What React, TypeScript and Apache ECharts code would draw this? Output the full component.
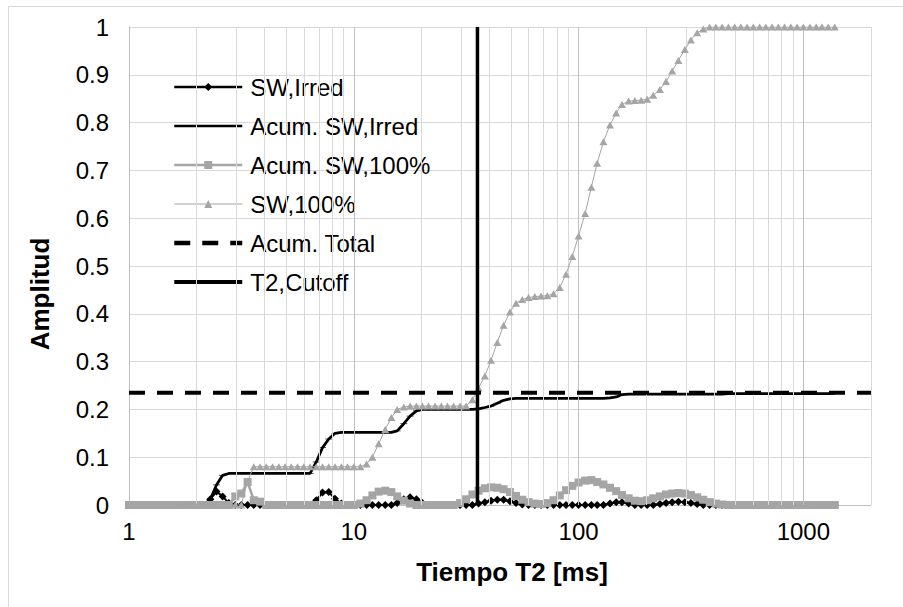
import React, { useEffect, useRef } from 'react';
import * as echarts from 'echarts';

// T2 bins (ms)
const t2Ms = [
  1, 1.07, 1.14, 1.21, 1.29, 1.38, 1.47, 1.56, 1.67, 1.78, 1.9, 2.02, 2.15, 2.3, 2.45, 2.61, 2.78, 2.97,
  3.16, 3.37, 3.59, 3.83, 4.08, 4.35, 4.64, 4.95, 5.27, 5.62, 5.99, 6.39, 6.81, 7.26, 7.74, 8.25, 8.8, 9.38,
  10, 10.7, 11.4, 12.1, 12.9, 13.8, 14.7, 15.6, 16.7, 17.8, 19, 20.2, 21.5, 23, 24.5, 26.1, 27.8, 29.7,
  31.6, 33.7, 35.9, 38.3, 40.8, 43.5, 46.4, 49.5, 52.7, 56.2, 59.9, 63.9, 68.1, 72.6, 77.4, 82.5, 88, 93.8,
  100, 107, 114, 121, 129, 138, 147, 156, 167, 178, 190, 202, 215, 230, 245, 261, 278, 297,
  316, 337, 359, 383, 408, 435, 464, 495, 527, 562, 599, 639, 681, 726, 774, 825, 880, 938,
  1000, 1070, 1140, 1210, 1290, 1380,
];

// SW,Irred (black diamonds)
const swIrred = [
  0, 0, 0, 0, 0, 0, 0, 0, 0, 0, 0, 0, 0,
  0.012, 0.028, 0.018, 0.004,
  0, 0, 0, 0, 0, 0, 0, 0, 0, 0, 0, 0, 0,
  0.01, 0.026, 0.027, 0.013, 0.003,
  0, 0, 0, 0, 0, 0, 0, 0,
  0.004, 0.012, 0.016, 0.012, 0.004,
  0, 0, 0, 0, 0, 0, 0, 0,
  0.003, 0.006, 0.009, 0.011, 0.011, 0.008, 0.004, 0.001,
  0, 0, 0, 0, 0, 0, 0, 0, 0, 0, 0, 0, 0,
  0.003, 0.006, 0.006, 0.003,
  0, 0, 0, 0,
  0.002, 0.004, 0.006, 0.007, 0.006, 0.004, 0.002,
  0, 0, 0, 0, 0, 0, 0, 0, 0, 0, 0, 0, 0, 0, 0, 0, 0, 0, 0, 0, 0, 0,
];

// Acum. SW,Irred (black, dash markers)
const acumSwIrred = [
  0, 0, 0, 0, 0, 0, 0, 0, 0, 0, 0, 0, 0,
  0.012, 0.042, 0.062,
  0.066, 0.066, 0.066, 0.066, 0.066, 0.066, 0.066, 0.066, 0.066, 0.066, 0.066, 0.066, 0.066, 0.066,
  0.09, 0.12, 0.138, 0.15,
  0.152, 0.152, 0.152, 0.152, 0.152, 0.152, 0.152, 0.152, 0.152,
  0.155, 0.17, 0.186, 0.197,
  0.2, 0.2, 0.2, 0.2, 0.2, 0.2, 0.2, 0.2, 0.2,
  0.201, 0.204, 0.207, 0.213, 0.219, 0.222,
  0.223, 0.223, 0.223, 0.223, 0.223, 0.223, 0.223, 0.223, 0.223, 0.223, 0.223, 0.223, 0.223, 0.223, 0.223,
  0.224, 0.226, 0.231,
  0.232, 0.232, 0.232, 0.232, 0.232, 0.232, 0.232, 0.232, 0.232, 0.232, 0.232, 0.232, 0.232, 0.232, 0.232, 0.232,
  0.233, 0.233, 0.233, 0.233, 0.233, 0.233, 0.233, 0.233, 0.233, 0.233, 0.233, 0.233, 0.233, 0.233, 0.233, 0.233, 0.233, 0.234,
];

// Acum. SW,100% (gray squares)
const acumSw100 = [
  0, 0, 0, 0, 0, 0, 0, 0, 0, 0, 0, 0, 0, 0, 0, 0, 0,
  0.018, 0.024, 0.048, 0.01, 0.007,
  0, 0, 0, 0, 0, 0, 0, 0, 0, 0, 0, 0, 0, 0, 0,
  0.003, 0.01, 0.02, 0.028, 0.03, 0.027, 0.018, 0.009, 0.003,
  0, 0, 0, 0, 0, 0, 0,
  0.004, 0.012, 0.022, 0.03, 0.035, 0.037, 0.036, 0.033, 0.027, 0.019, 0.011, 0.006, 0.003, 0.002, 0.004,
  0.01, 0.02, 0.031, 0.04, 0.047, 0.051, 0.052, 0.048, 0.043, 0.036, 0.029, 0.021, 0.014, 0.009, 0.008,
  0.01, 0.014, 0.018, 0.022, 0.024, 0.025, 0.024, 0.021, 0.016, 0.011, 0.006, 0.003, 0.001,
  0, 0, 0, 0, 0, 0, 0, 0, 0, 0, 0, 0, 0, 0, 0, 0, 0, 0,
];

// SW,100% (gray triangles)
const sw100 = [
  0, 0, 0, 0, 0, 0, 0, 0, 0, 0, 0, 0, 0, 0, 0, 0, 0, 0, 0,
  0.05,
  0.08, 0.08, 0.08, 0.08, 0.08, 0.08, 0.08, 0.08, 0.08, 0.08, 0.08, 0.08, 0.08, 0.08, 0.08, 0.08, 0.08, 0.08,
  0.086, 0.1, 0.128, 0.158, 0.183, 0.2, 0.205,
  0.207, 0.207, 0.207, 0.207, 0.207, 0.207, 0.207, 0.207, 0.207, 0.207,
  0.22, 0.245, 0.27, 0.303, 0.34, 0.376, 0.404, 0.422, 0.43, 0.434, 0.436, 0.437, 0.438,
  0.442, 0.455, 0.483, 0.52, 0.563, 0.61, 0.665, 0.715, 0.76, 0.795, 0.82, 0.838, 0.845,
  0.846, 0.847, 0.849, 0.857, 0.869, 0.886, 0.908, 0.93, 0.953, 0.973, 0.988, 0.996,
  1, 1, 1, 1, 1, 1, 1, 1, 1, 1, 1, 1, 1, 1, 1, 1, 1, 1, 1, 1, 1,
];

const seriesNames = ['SW,Irred', 'Acum. SW,Irred', 'Acum. SW,100%', 'SW,100%', 'Acum. Total', 'T2,Cutoff'];
const legendNoMarker = ['Acum. SW,Irred', 'Acum. Total', 'T2,Cutoff'];
const acumTotalX = [1, 2000];
const acumTotalY = [0.235, 0.235];
const cutoffX = [35.5, 35.5];
const cutoffY = [0, 1];
const xTickLabels = [1, 10, 100, 1000];
const majorGridX = [10, 100, 1000];
const minorGridX = [2, 3, 4, 5, 6, 7, 8, 9, 20, 30, 40, 50, 60, 70, 80, 90, 200, 300, 400, 500, 600, 700, 800, 900, 2000];

const FONT = '"Liberation Sans", Arial, sans-serif';

const lineWidths: Record<string, number> = {
  'SW,Irred': 2,
  'Acum. SW,Irred': 2.75,
  'Acum. SW,100%': 2.5,
  'SW,100%': 1,
  'Acum. Total': 4,
  'T2,Cutoff': 3.5,
};
const legendWidths: Record<string, number> = {
  'SW,Irred': 2.5,
  'Acum. SW,Irred': 2.5,
  'Acum. SW,100%': 2.5,
  'SW,100%': 1,
  'Acum. Total': 4.5,
  'T2,Cutoff': 4,
};

function pairs(xs: number[], ys: number[]) {
  return xs.map((x, i) => [x, ys[i]]);
}

export default function App() {
  const ref = useRef<HTMLDivElement>(null);

  useEffect(() => {
    if (!ref.current) return;
    const chart = echarts.init(ref.current, null, { renderer: 'svg' });
    const option: any = {
      animation: false,
      backgroundColor: '#ffffff',
      textStyle: { fontFamily: FONT },
      graphic: [
        {
          type: 'rect',
          silent: true,
          shape: { x: 8.5, y: 6.5, width: 1000, height: 1000 },
          style: { fill: 'none', stroke: '#d9d9d9', lineWidth: 1 },
        },
      ],
      grid: { left: 129, right: 32, top: 27, bottom: 102 },
      legend: {
        data: seriesNames.map((n) => {
          const item: any = { name: n, lineStyle: { width: legendWidths[n] } };
          if (legendNoMarker.indexOf(n) >= 0) item.itemStyle = { opacity: 0 };
          return item;
        }),
        orient: 'vertical',
        left: 172,
        top: 75,
        padding: 0,
        itemWidth: 68,
        itemHeight: 10,
        itemGap: 15,
        selectedMode: false,
        textStyle: { fontSize: 24, color: '#000', fontFamily: FONT, lineHeight: 24, padding: [0, 0, 0, 3] },
      },
      xAxis: {
        type: 'log',
        logBase: 10,
        min: 1,
        max: 2000,
        axisLine: { show: true, lineStyle: { color: '#bfbfbf', width: 1 } },
        axisTick: { show: false },
        splitLine: { show: false },
        axisLabel: {
          fontSize: 24,
          color: '#000',
          fontFamily: FONT,
          margin: 14,
          formatter: (v: number) => {
            const r = Math.round(v);
            return xTickLabels.indexOf(r) >= 0 ? String(r) : '';
          },
        },
        name: 'Tiempo T2 [ms]',
        nameLocation: 'middle',
        nameGap: 54,
        nameTextStyle: { fontSize: 26, fontWeight: 'bold', color: '#000', fontFamily: FONT, padding: [0, 0, 0, 24] },
      },
      yAxis: {
        type: 'value',
        min: 0,
        max: 1,
        interval: 0.1,
        axisLine: { show: true, lineStyle: { color: '#bfbfbf', width: 1 } },
        axisTick: { show: false },
        splitLine: { show: true, lineStyle: { color: '#d9d9d9', width: 1 } },
        axisLabel: { fontSize: 24, color: '#000', fontFamily: FONT, margin: 20 },
        name: 'Amplitud',
        nameLocation: 'middle',
        nameGap: 76,
        nameRotate: 90,
        nameTextStyle: { fontSize: 26, fontWeight: 'bold', color: '#000', fontFamily: FONT, padding: [0, 56, 0, 0] },
      },
      series: [
        {
          name: 'grid-lines',
          type: 'line',
          data: [],
          z: 1,
          silent: true,
          markLine: {
            silent: true,
            symbol: 'none',
            label: { show: false },
            emphasis: { disabled: true },
            data: [
              ...minorGridX.map((v) => ({ xAxis: v, lineStyle: { color: '#d9d9d9', width: 1, type: 'solid' } })),
              ...majorGridX.map((v) => ({ xAxis: v, lineStyle: { color: '#bfbfbf', width: 1, type: 'solid' } })),
            ],
          },
        },
        {
          name: 'SW,Irred',
          type: 'line',
          data: pairs(t2Ms, swIrred),
          color: '#000',
          symbol: 'diamond',
          symbolSize: 8,
          lineStyle: { color: '#000', width: lineWidths['SW,Irred'] },
          itemStyle: { color: '#000' },
          z: 2,
        },
        {
          name: 'Acum. SW,Irred',
          type: 'line',
          data: pairs(t2Ms, acumSwIrred),
          color: '#000',
          symbol: 'path://M0 0H10V3H0Z',
          symbolKeepAspect: true,
          symbolSize: [7, 2.1],
          lineStyle: { color: '#000', width: lineWidths['Acum. SW,Irred'] },
          itemStyle: { color: '#000' },
          z: 3,
        },
        {
          name: 'Acum. SW,100%',
          type: 'line',
          data: pairs(t2Ms, acumSw100),
          color: '#a5a5a5',
          symbol: 'rect',
          symbolSize: 8,
          clip: false,
          lineStyle: { color: '#a5a5a5', width: lineWidths['Acum. SW,100%'] },
          itemStyle: { color: '#a5a5a5' },
          z: 4,
        },
        {
          name: 'SW,100%',
          type: 'line',
          data: pairs(t2Ms, sw100),
          color: '#a5a5a5',
          symbol: 'triangle',
          symbolSize: [8, 7],
          lineStyle: { color: '#a5a5a5', width: lineWidths['SW,100%'] },
          itemStyle: { color: '#a5a5a5' },
          z: 5,
        },
        {
          name: 'Acum. Total',
          type: 'line',
          data: pairs(acumTotalX, acumTotalY),
          color: '#000',
          symbol: 'none',
          lineStyle: { color: '#000', width: lineWidths['Acum. Total'], type: [16, 12] },
          z: 6,
        },
        {
          name: 'T2,Cutoff',
          type: 'line',
          data: pairs(cutoffX, cutoffY),
          color: '#000',
          symbol: 'none',
          lineStyle: { color: '#000', width: lineWidths['T2,Cutoff'] },
          z: 7,
        },
      ],
    };
    chart.setOption(option);
    return () => chart.dispose();
  }, []);

  return (
    <div
      ref={ref}
      style={{ position: 'fixed', left: 0, top: 0, width: 903, height: 607, background: '#fff' }}
    />
  );
}
